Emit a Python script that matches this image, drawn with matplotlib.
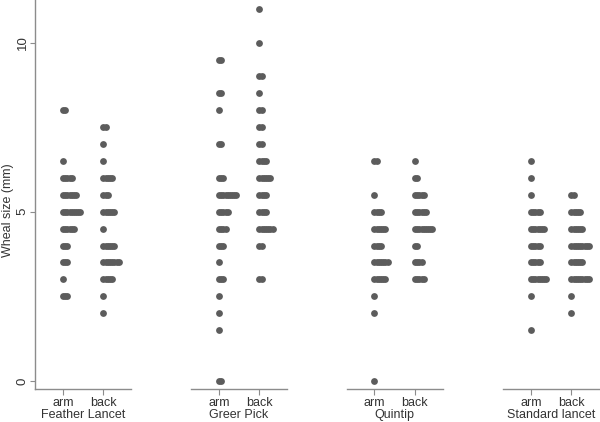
import matplotlib.pyplot as plt

# wheal size (mm) -> number of subjects
groups = ['Feather Lancet', 'Greer Pick', 'Quintip', 'Standard lancet']
sites = ['arm', 'back']

feather_arm = {8: 2, 6.5: 1, 6: 5, 5.5: 7, 5: 9, 4.5: 6, 4: 3, 3.5: 3, 3: 1, 2.5: 3}
feather_back = {7.5: 2, 7: 1, 6.5: 1, 6: 5, 5.5: 3, 5: 6, 4.5: 1, 4: 6, 3.5: 8, 3: 5, 2.5: 1, 2: 1}
greer_arm = {9.5: 2, 8.5: 2, 8: 1, 7: 2, 6: 3, 5.5: 9, 5: 5, 4.5: 4, 4: 3, 3.5: 1,
             3: 3, 2.5: 1, 2: 1, 1.5: 1, 0: 2}
greer_back = {11: 1, 10: 1, 9: 2, 8.5: 1, 8: 2, 7.5: 2, 7: 2, 6.5: 4, 6: 6, 5.5: 4,
              5: 4, 4.5: 7, 4: 2, 3: 2}
quintip_arm = {6.5: 2, 5.5: 1, 5: 4, 4.5: 6, 4: 4, 3.5: 7, 3: 6, 2.5: 1, 2: 1, 0: 1}
quintip_back = {6.5: 1, 6: 2, 5.5: 5, 5: 6, 4.5: 9, 4: 2, 3.5: 4, 3: 5}
standard_arm = {6.5: 1, 6: 1, 5.5: 1, 5: 5, 4.5: 7, 4: 5, 3.5: 5, 3: 8, 2.5: 1, 1.5: 1}
standard_back = {5.5: 2, 5: 5, 4.5: 6, 4: 9, 3.5: 6, 3: 9, 2.5: 1, 2: 1}

series = [(feather_arm, feather_back), (greer_arm, greer_back),
          (quintip_arm, quintip_back), (standard_arm, standard_back)]

plt.rcParams['font.family'] = ['Liberation Sans', 'DejaVu Sans']
dot_color = '#5c5c5c'
axis_color = '#8c8c8c'
text_color = '#333333'
step = 0.054  # horizontal offset between stacked dots

W, H = 600, 422
fig = plt.figure(figsize=(W / 100, H / 100), dpi=100)

lefts = [35, 191, 346.5, 503]
panel_w = 96
bottom = 389

for i, (name, pair) in enumerate(zip(groups, series)):
    ax = fig.add_axes([lefts[i] / W, (H - bottom) / H, panel_w / W, bottom / H])
    for j, counts in enumerate(pair):
        for val, n in counts.items():
            xs = [j + 1 + k * step for k in range(n)]
            ax.plot(xs, [val] * n, 'o', ms=4.9, color=dot_color, mec='none')
    ax.set_xlim(0.31, 2.68)
    ax.set_ylim(-0.24, 11.26)
    ax.set_xticks([1, 2], sites)
    ax.set_xlabel(name, fontsize=9, labelpad=0, color=text_color)
    ax.tick_params(axis='x', length=4, width=0.8, color=axis_color, pad=2,
                   labelsize=9, labelcolor=text_color)
    for s in ['top', 'right']:
        ax.spines[s].set_visible(False)
    ax.spines['bottom'].set_color(axis_color)
    ax.spines['bottom'].set_linewidth(1.0)
    if i == 0:
        ax.spines['left'].set_color(axis_color)
        ax.spines['left'].set_linewidth(1.0)
        ax.set_yticks([0, 5, 10])
        ax.tick_params(axis='y', length=3.5, width=0.8, color=axis_color, pad=1,
                       labelsize=9.5, labelcolor=text_color)
        for lab in ax.get_yticklabels():
            lab.set_rotation(90)
            lab.set_va('center')
    else:
        ax.spines['left'].set_visible(False)
        ax.set_yticks([])

fig.text(8 / W, 1 - 210 / H, 'Wheal size (mm)', rotation=90, ha='center', va='center',
         fontsize=9, color=text_color)

fig.savefig('out.png', dpi=100, facecolor='white')
